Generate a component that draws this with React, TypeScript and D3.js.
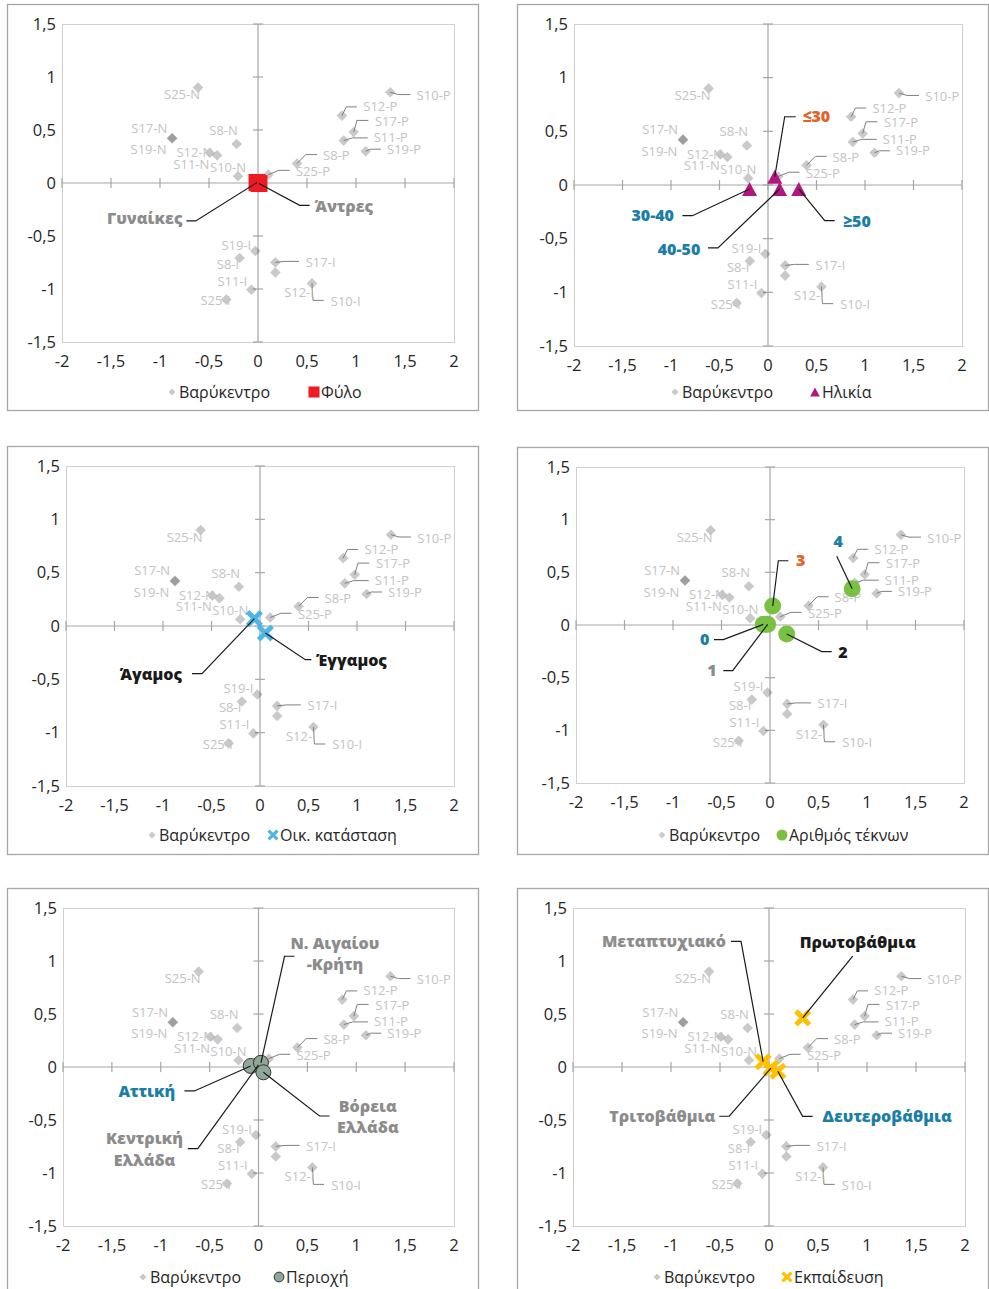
import React from 'react';
import * as d3 from 'd3';

// ---------- DATA ----------
const xTicks = [-2, -1.5, -1, -0.5, 0, 0.5, 1, 1.5, 2];
const yTicks = [-1.5, -1, -0.5, 0, 0.5, 1, 1.5];

const centroidNames = ['S8-N', 'S10-N', 'S11-N', 'S12-N', 'S17-N', 'S19-N', 'S25-N',
  'S8-P', 'S10-P', 'S11-P', 'S12-P', 'S17-P', 'S19-P', 'S25-P',
  'S8-I', 'S10-I', 'S11-I', 'S12-I', 'S17-I', 'S19-I', 'S25-I'];
const centroidX = [-0.218, -0.204, -0.418, -0.493, -0.878, -0.875, -0.612,
  0.398, 1.35, 0.874, 0.857, 0.976, 1.099, 0.105,
  -0.187, 0.551, -0.068, 0.177, 0.177, -0.027, -0.323];
const centroidY = [0.368, 0.063, 0.261, 0.286, 0.425, 0.42, 0.9,
  0.183, 0.856, 0.4, 0.636, 0.48, 0.3, 0.079,
  -0.708, -0.947, -1.007, -0.844, -0.749, -0.642, -1.1];

const sexNames = ['Γυναίκες', 'Άντρες'];
const sexX = [-0.01, 0.01];
const sexY = [0.005, -0.005];

const ageNames = ['≤30', '30-40', '40-50', '≥50'];
const ageX = [0.07, -0.19, 0.12, 0.317];
const ageY = [0.078, -0.037, -0.037, -0.037];

const maritalNames = ['Άγαμος', 'Έγγαμος'];
const maritalX = [-0.058, 0.055];
const maritalY = [0.069, -0.066];

const childrenNames = ['0', '1', '2', '3', '4'];
const childrenX = [-0.069, -0.024, 0.172, 0.028, 0.847];
const childrenY = [0.006, 0.006, -0.085, 0.18, 0.345];

const regionNames = ['Κεντρική\nΕλλάδα', 'Αττική', 'Ν. Αιγαίου\n-Κρήτη', 'Βόρεια\nΕλλάδα'];
const regionX = [0.0, -0.08, 0.025, 0.05];
const regionY = [0.02, 0.01, 0.04, -0.05];

const educationNames = ['Πρωτοβάθμια', 'Δευτεροβάθμια', 'Τριτοβάθμια', 'Μεταπτυχιακό'];
const educationX = [0.344, 0.09, 0.02, -0.06];
const educationY = [0.463, -0.04, -0.01, 0.05];

const legendCentroid = 'Βαρύκεντρο';
const seriesTitles = ['Φύλο', 'Ηλικία', 'Οικ. κατάσταση', 'Αριθμός τέκνων', 'Περιοχή', 'Εκπαίδευση'];

// ---------- STYLE / LAYOUT ----------
const FONT = '"Open Sans", "Noto Sans", sans-serif';
const GRAY = '#8c8c8c';
const BLUE = '#1b7ea6';
const ORANGE = '#e0642a';
const BLACK = '#1a1a1a';

type Lbl = { dx: number; dy: number; leader?: number[][] };
const centroidLabelLayout: Record<string, Lbl> = {
  'S25-N': { dx: -16, dy: 7 },
  'S17-N': { dx: -22.7, dy: -10 },
  'S19-N': { dx: -23.7, dy: 11.3 },
  'S8-N': { dx: -13, dy: -13.7 },
  'S12-N': { dx: -15.3, dy: 0 },
  'S11-N': { dx: -25.7, dy: 8.7 },
  'S10-N': { dx: -10, dy: -8.7 },
  'S19-I': { dx: -19, dy: -5.7 },
  'S8-I': { dx: -11.7, dy: 6.3 },
  'S11-I': { dx: -19, dy: -8.7 },
  'S25-I': { dx: -11, dy: 1.3 },
  'S12-I': { dx: 23.7, dy: 20.3 },
  'S25-P': { dx: 44.7, dy: -3.3, leader: [[10.7, -4.3], [21.3, -4.3]] },
  'S8-P': { dx: 39.3, dy: -8.3, leader: [[8.7, -9], [20, -9]] },
  'S12-P': { dx: 38.3, dy: -8.7, leader: [[4.3, -8.7], [15, -8.7]] },
  'S17-P': { dx: 38.3, dy: -11, leader: [[3.3, -11.7], [14.7, -11.7]] },
  'S11-P': { dx: 47, dy: -2.7, leader: [[8.7, -2.7], [24, -2.7]] },
  'S19-P': { dx: 38.3, dy: -2, leader: [[4.7, -2], [15.3, -2]] },
  'S10-P': { dx: 43.3, dy: 3.3, leader: [[8, 2.3], [20, 2.3]] },
  'S17-I': { dx: 45.3, dy: 0, leader: [[9.3, -1], [23.7, -1]] },
  'S10-I': { dx: 33.7, dy: 17.7, leader: [[1, 17], [11.7, 17]] },
};

type OLbl = { dx: number; dy: number; anchor: string; color: string; leader: number[][]; gap?: number };

const sexLayout: Record<string, OLbl> = {
  'Γυναίκες': { dx: -74.6, dy: 36, anchor: 'end', color: GRAY, leader: [[-61.3, 38.5], [-70.6, 38.5]] },
  'Άντρες': { dx: 55.7, dy: 22.5, anchor: 'start', color: GRAY, leader: [[40.7, 21.8], [50.7, 21.8]] },
};
const ageLayout: Record<string, OLbl> = {
  '≤30': { dx: 27.6, dy: -59.9, anchor: 'start', color: ORANGE, leader: [[9.9, -59.9], [20.9, -59.9]] },
  '30-40': { dx: -75.6, dy: 26.7, anchor: 'end', color: BLUE, leader: [[-57.2, 26.7], [-67.2, 26.7]] },
  '40-50': { dx: -79.3, dy: 60, anchor: 'end', color: BLUE, leader: [[-61.7, 59], [-71.7, 59]] },
  '≥50': { dx: 44.3, dy: 32.7, anchor: 'start', color: BLUE, leader: [[26, 31.7], [36, 31.7]] },
};
const maritalLayout: Record<string, OLbl> = {
  'Άγαμος': { dx: -72.4, dy: 56, anchor: 'end', color: BLACK, leader: [[-52.4, 55], [-62.4, 55]] },
  'Έγγαμος': { dx: 51, dy: 27.3, anchor: 'start', color: BLACK, leader: [[40, 26.6], [46, 26.6]] },
};
const childrenLayout: Record<string, OLbl> = {
  '0': { dx: -54, dy: 15.3, anchor: 'end', color: BLUE, leader: [[-40, 15.3], [-49.3, 15.3]] },
  '1': { dx: -51, dy: 46.3, anchor: 'end', color: GRAY, leader: [[-35, 46.3], [-44.4, 46.3]] },
  '2': { dx: 51.6, dy: 18.4, anchor: 'start', color: BLACK, leader: [[35, 17.7], [45, 17.7]] },
  '3': { dx: 23.3, dy: -45.3, anchor: 'start', color: ORANGE, leader: [[5.6, -45.3], [15.6, -45.3]] },
  '4': { dx: -14, dy: -47, anchor: 'middle', color: BLUE, leader: [[-15.4, -32.3]] },
};
const regionLayout: Record<string, OLbl> = {
  'Αττική': { dx: -75.5, dy: 25, anchor: 'end', color: BLUE, leader: [[-56.2, 25], [-66.2, 25]] },
  'Ν. Αιγαίου\n-Κρήτη': { dx: 74, dy: -119.8, anchor: 'middle', color: GRAY, gap: 21.3, leader: [[23.6, -106.5], [33.6, -106.5]] },
  'Βόρεια\nΕλλάδα': { dx: 104.4, dy: 33.7, anchor: 'middle', color: GRAY, gap: 21, leader: [[56.1, 43.7], [66.1, 43.7]] },
  'Κεντρική\nΕλλάδα': { dx: -114, dy: 73.7, anchor: 'middle', color: GRAY, gap: 21.7, leader: [[-60.7, 83.7], [-70.7, 83.7]] },
};
const educationLayout: Record<string, OLbl> = {
  'Πρωτοβάθμια': { dx: 55, dy: -75.4, anchor: 'middle', color: BLACK, leader: [[50, -61.7]] },
  'Μεταπτυχιακό': { dx: -37.1, dy: -120.4, anchor: 'end', color: GRAY, leader: [[-22.1, -120.4], [-32.1, -120.4]] },
  'Τριτοβάθμια': { dx: -55.7, dy: 48.2, anchor: 'end', color: GRAY, leader: [[-41.7, 48.2], [-51.7, 48.2]] },
  'Δευτεροβάθμια': { dx: 44.8, dy: 45.1, anchor: 'start', color: BLUE, leader: [[24.8, 45.1], [34.8, 45.1]] },
};

type Panel = {
  frame: number[]; plot: number[]; legendY: number; legendX: number[];
  title: string; marker: string; names: string[]; xs: number[]; ys: number[]; layout: Record<string, OLbl>;
};

const panels: Panel[] = [
  { frame: [7, 4, 478, 410], plot: [62, 24, 454, 342], legendY: 392, legendX: [172, 314], title: seriesTitles[0], marker: 'square', names: sexNames, xs: sexX, ys: sexY, layout: sexLayout },
  { frame: [517, 4, 988, 410], plot: [574, 24, 962, 346], legendY: 392, legendX: [675, 815], title: seriesTitles[1], marker: 'triangle', names: ageNames, xs: ageX, ys: ageY, layout: ageLayout },
  { frame: [7, 446, 478, 854], plot: [66, 466, 454, 786], legendY: 835, legendX: [152, 273], title: seriesTitles[2], marker: 'xblue', names: maritalNames, xs: maritalX, ys: maritalY, layout: maritalLayout },
  { frame: [517, 447, 988, 854], plot: [576, 467, 964, 783], legendY: 835, legendX: [662, 782], title: seriesTitles[3], marker: 'circle', names: childrenNames, xs: childrenX, ys: childrenY, layout: childrenLayout },
  { frame: [7, 888, 478, 1300], plot: [63, 908, 454, 1226], legendY: 1277, legendX: [143, 279], title: seriesTitles[4], marker: 'region', names: regionNames, xs: regionX, ys: regionY, layout: regionLayout },
  { frame: [517, 888, 988, 1300], plot: [573, 908, 965, 1226], legendY: 1277, legendX: [657, 787], title: seriesTitles[5], marker: 'xyellow', names: educationNames, xs: educationX, ys: educationY, layout: educationLayout },
];

function Marker({ type, x, y, legend }: { type: string; x: number; y: number; legend?: boolean }) {
  const k = legend ? 0.65 : 1;
  if (type === 'square') {
    const s = 17 * k;
    return <rect x={x - s / 2} y={y - s / 2} width={s} height={s} fill="#ed1c24" />;
  }
  if (type === 'triangle') {
    const w = 15 * k, h = 14 * k;
    return <path d={`M${x},${y - h / 2}L${x + w / 2},${y + h / 2}L${x - w / 2},${y + h / 2}Z`} fill="#b0187f" />;
  }
  if (type === 'xblue' || type === 'xyellow') {
    const s = 6.8 * k;
    const c = type === 'xblue' ? '#4cb6e6' : '#ffc000';
    return (
      <path d={`M${x - s},${y - s}L${x + s},${y + s}M${x - s},${y + s}L${x + s},${y - s}`} stroke={c} strokeWidth={5 * k} fill="none" />
    );
  }
  if (type === 'circle') {
    return <circle cx={x} cy={y} r={8.5 * k} fill="#7ac143" />;
  }
  if (type === 'region') {
    return <circle cx={x} cy={y} r={7.5 * k} fill="#90a697" stroke="#333" strokeWidth={1} />;
  }
  // diamond
  const d = 5.3 * k;
  return <path d={`M${x},${y - d}L${x + d},${y}L${x},${y + d}L${x - d},${y}Z`} fill="#000" fillOpacity={0.21} />;
}

function ChartPanel({ p }: { p: Panel }) {
  const [x0, y0, x1, y1] = p.plot;
  const xs = d3.scaleLinear().domain([-2, 2]).range([x0, x1]);
  const ys = d3.scaleLinear().domain([-1.5, 1.5]).range([y1, y0]);
  const line = d3.line();
  const fmt = (v: number) => String(v).replace('.', ',');
  const cx0 = xs(0), cy0 = ys(0);
  return (
    <g>
      <rect x={p.frame[0] + 0.5} y={p.frame[1] + 0.5} width={p.frame[2] - p.frame[0]} height={p.frame[3] - p.frame[1]} fill="#fff" stroke="#a6a6a6" strokeWidth={1.3} />
      <rect x={x0 + 0.5} y={y0 + 0.5} width={x1 - x0} height={y1 - y0} fill="none" stroke="#d0d0d0" strokeWidth={1} />
      {/* axes */}
      <line x1={x0} x2={x1} y1={cy0} y2={cy0} stroke="#a6a6a6" strokeWidth={1.2} />
      <line x1={cx0} x2={cx0} y1={y0} y2={y1} stroke="#a6a6a6" strokeWidth={1.2} />
      {xTicks.map((t) => (
        <line key={'xt' + t} x1={xs(t)} x2={xs(t)} y1={cy0 - 5} y2={cy0 + 5} stroke="#a6a6a6" strokeWidth={1.2} />
      ))}
      {yTicks.map((t) => (
        <line key={'yt' + t} x1={cx0 - 5} x2={cx0 + 5} y1={ys(t)} y2={ys(t)} stroke="#a6a6a6" strokeWidth={1.2} />
      ))}
      {/* centroids */}
      {centroidNames.map((n, i) => (
        <Marker key={'c' + n} type="diamond" x={xs(centroidX[i])} y={ys(centroidY[i])} />
      ))}
      {centroidNames.map((n, i) => {
        const L = centroidLabelLayout[n];
        const px = xs(centroidX[i]), py = ys(centroidY[i]);
        return (
          <g key={'cl' + n}>
            {L.leader && (
              <path d={line([[px, py], ...L.leader.map(([a, b]) => [px + a, py + b] as [number, number])]) || ''} fill="none" stroke="#7f7f7f" strokeWidth={1} />
            )}
            <text x={px + L.dx} y={py + L.dy} dy="0.35em" textAnchor="middle" fontFamily={FONT} fontSize={13} fill="#c3c3c3">{n}</text>
          </g>
        );
      })}
      {/* overlay series */}
      {p.names.map((n, i) => (
        <Marker key={'m' + n} type={p.marker} x={xs(p.xs[i])} y={ys(p.ys[i])} />
      ))}
      {p.names.map((n, i) => {
        const L = p.layout[n];
        const px = xs(p.xs[i]), py = ys(p.ys[i]);
        const lines = n.split('\n');
        return (
          <g key={'ol' + n}>
            <path d={line([[px, py], ...L.leader.map(([a, b]) => [px + a, py + b] as [number, number])]) || ''} fill="none" stroke={BLACK} strokeWidth={1.2} />
            {lines.map((t, j) => (
              <text key={j} x={px + L.dx} y={py + L.dy + j * (L.gap || 0)} dy="0.35em" textAnchor={L.anchor} fontFamily={FONT} fontWeight={800} fontSize={16} fill={L.color}>{t}</text>
            ))}
          </g>
        );
      })}
      {/* tick labels */}
      {xTicks.map((t) => (
        <text key={'xl' + t} x={xs(t)} y={y1 + 19} dy="0.35em" textAnchor="middle" fontFamily={FONT} fontSize={16.5} fill="#262626">{fmt(t)}</text>
      ))}
      {yTicks.map((t) => (
        <text key={'yl' + t} x={x0 - 6} y={ys(t)} dy="0.35em" textAnchor="end" fontFamily={FONT} fontSize={16.5} fill="#262626">{fmt(t)}</text>
      ))}
      {/* legend */}
      <Marker type="diamond" x={p.legendX[0]} y={p.legendY} legend />
      <text x={p.legendX[0] + 7} y={p.legendY} dy="0.35em" fontFamily={FONT} fontSize={16} fill="#262626">{legendCentroid}</text>
      <Marker type={p.marker} x={p.legendX[1]} y={p.legendY} legend />
      <text x={p.legendX[1] + 7} y={p.legendY} dy="0.35em" fontFamily={FONT} fontSize={16} fill="#262626">{p.title}</text>
    </g>
  );
}

export default function App() {
  return (
    <svg width={989} height={1289} style={{ position: 'absolute', left: 0, top: 0, background: '#fff' }}>
      {panels.map((p, i) => (
        <ChartPanel key={i} p={p} />
      ))}
    </svg>
  );
}
